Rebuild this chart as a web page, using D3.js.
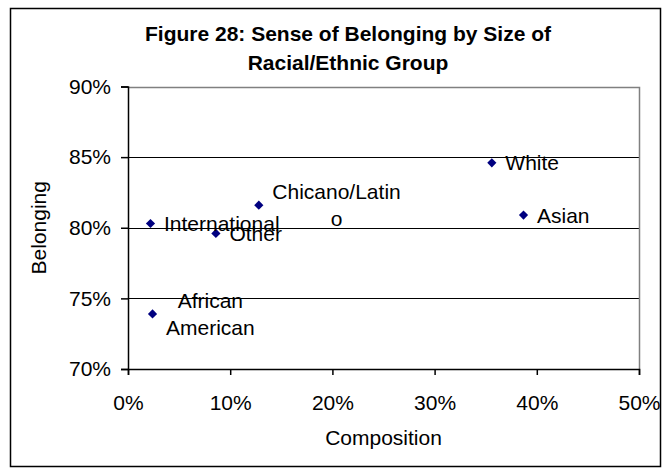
<!DOCTYPE html>
<html>
<head>
<meta charset="utf-8">
<script src="https://cdn.jsdelivr.net/npm/d3@7"></script>
<style>
  body { margin: 0; background: #fff; }
  svg { display: block; }
  text { font-family: "Liberation Sans", Arial, sans-serif; fill: #000; }
</style>
</head>
<body>
<svg id="chart" width="671" height="471"></svg>
<script>
// ---- data ----
const groups = ["International", "African American", "Other", "Chicano/Latino", "White", "Asian"];
const composition = [2.2, 2.4, 8.6, 12.8, 35.6, 38.7];   // % of students
const belonging = [80.3, 73.9, 79.6, 81.6, 84.6, 80.9];  // % sense of belonging
const labelLines = [["International"], ["African", "American"], ["Other"], ["Chicano/Latin", "o"], ["White"], ["Asian"]];
const xTicks = [0, 10, 20, 30, 40, 50];
const yTicks = [70, 75, 80, 85, 90];
const titleLines = ["Figure 28: Sense of Belonging by Size of", "Racial/Ethnic Group"];
const xTitle = "Composition";
const yTitle = "Belonging";

// ---- layout ----
const W = 671, H = 471;
const plot = { left: 128, right: 639, top: 86.5, bottom: 369 };
const svg = d3.select("#chart");

svg.append("rect").attr("x", 0).attr("y", 0).attr("width", W).attr("height", H).attr("fill", "#fff");
// outer chart border
svg.append("rect").attr("x", 10.5).attr("y", 8.5).attr("width", 650).attr("height", 458)
  .attr("fill", "none").attr("stroke", "#000").attr("stroke-width", 1.5);

const x = d3.scaleLinear().domain([0, 50]).range([plot.left, plot.right]);
const y = d3.scaleLinear().domain([70, 90]).range([plot.bottom, plot.top]);

// title
svg.append("g").selectAll("text").data(titleLines).join("text")
  .attr("x", 348).attr("y", (d, i) => 41 + i * 29)
  .attr("text-anchor", "middle").attr("font-size", 21).attr("font-weight", "bold")
  .text(d => d);

// gridlines
svg.append("g").selectAll("line").data(yTicks.filter(t => t !== 70 && t !== 90)).join("line")
  .attr("x1", plot.left).attr("x2", plot.right)
  .attr("y1", d => Math.round(y(d)) + 0.5).attr("y2", d => Math.round(y(d)) + 0.5)
  .attr("stroke", "#000").attr("stroke-width", 1);

// plot border (top and right grey)
svg.append("path")
  .attr("d", `M${plot.left},${Math.round(plot.top) + 0.5}H${plot.right + 0.5}V${plot.bottom}`)
  .attr("fill", "none").attr("stroke", "#808080").attr("stroke-width", 1.5);

// axes
const xAxis = d3.axisBottom(x).tickValues(xTicks).tickSize(6).tickPadding(20).tickFormat(d => d + "%");
const gx = svg.append("g").attr("transform", `translate(0,${plot.bottom})`).call(xAxis);
gx.select(".domain").attr("stroke", "#000").attr("stroke-width", 1.5);
gx.selectAll(".tick line").attr("stroke", "#000").attr("stroke-width", 1.5);
gx.selectAll(".tick text").attr("font-size", 21).attr("fill", "#000")
  .attr("font-family", "'Liberation Sans', Arial, sans-serif");

const yAxis = d3.axisLeft(y).tickValues(yTicks).tickSize(7).tickPadding(10).tickFormat(d => d + "%");
const gy = svg.append("g").attr("transform", `translate(${plot.left},0)`).call(yAxis);
gy.select(".domain").attr("stroke", "#000").attr("stroke-width", 1.5);
gy.selectAll(".tick line").attr("stroke", "#000").attr("stroke-width", 1.5);
gy.selectAll(".tick text").attr("font-size", 21).attr("fill", "#000")
  .attr("font-family", "'Liberation Sans', Arial, sans-serif");

// axis titles
svg.append("text").attr("x", (plot.left + plot.right) / 2).attr("y", 445)
  .attr("text-anchor", "middle").attr("font-size", 21).text(xTitle);
svg.append("text").attr("transform", `translate(46,${(plot.top + plot.bottom) / 2}) rotate(-90)`)
  .attr("text-anchor", "middle").attr("font-size", 21).text(yTitle);

// data
const pts = groups.map((g, i) => ({ name: g, cx: composition[i], cy: belonging[i], lines: labelLines[i] }));

svg.append("g").selectAll("path").data(pts).join("path")
  .attr("transform", d => `translate(${x(d.cx)},${y(d.cy)})`)
  .attr("d", "M0,-4.6L4.6,0L0,4.6L-4.6,0Z")
  .attr("fill", "#000080");

// labels
const lineH = 27.5;
const lg = svg.append("g");
pts.forEach(d => {
  const t = lg.append("text").attr("font-size", 21).attr("text-anchor", "middle");
  const n = d.lines.length;
  const spans = d.lines.map((l, j) => t.append("tspan").text(l));
  const widths = spans.map(s => s.node().getComputedTextLength());
  const maxW = d3.max(widths);
  const cxp = x(d.cx) + 13.5 + maxW / 2;
  const cyp = y(d.cy);
  spans.forEach((s, j) => {
    s.attr("x", cxp).attr("y", cyp + (j - (n - 1) / 2) * lineH + 7.5);
  });
});
</script>
</body>
</html>
